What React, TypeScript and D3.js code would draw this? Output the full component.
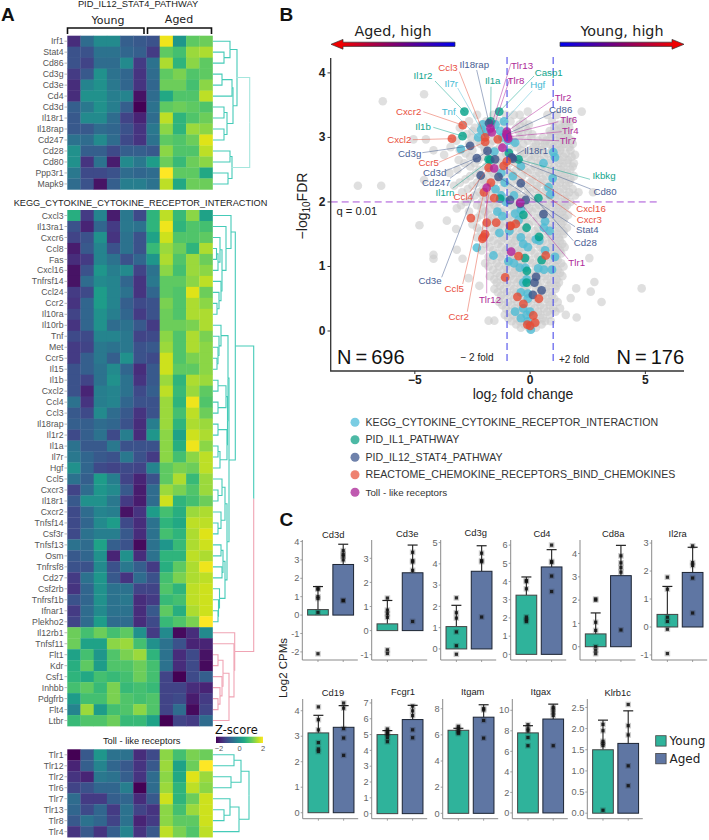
import React from "react";
import * as d3 from "d3";

const SANS = "'Liberation Sans', Arial, sans-serif";
const DEJA = "'DejaVu Sans', sans-serif";

// ---------- Heatmap data (z-scores, 6 young + 5 aged samples) ----------
const pidGenes = ["Irf1","Stat4","Cd86","Cd3g","Cd3e","Cd4","Cd3d","Il18r1","Il18rap","Cd247","Cd28","Cd80","Ppp3r1","Mapk9"];
const pidValues = [
[-1.5,-.6,-.1,-.1,-.8,-.9,-1,1.9,.1,1,1.1],
[-1,-1,-.5,-.5,-.7,-.8,-1.3,1,.8,1.4,1.5],
[-1,-1.2,-.6,-.6,-.1,-1.3,-.5,1.5,.6,1.3,1],
[-1.3,-.9,0,-.5,-.7,-1.4,-.6,1,1.2,.9,1],
[-1.5,-.2,0,-.4,-.7,-1.4,-.7,1.1,1.1,.8,1.3],
[-1.5,0,0,-.3,-.2,-1.8,-.6,.4,.9,.9,1.6],
[-.8,-.4,0,-.3,-.8,-2,-.5,1,1.1,1,.9],
[-.9,-.1,-.1,-.6,-1.2,-1.6,-.6,1.6,.6,.9,1.1],
[-.9,-.9,-.6,-.7,-1,-1.4,-.4,1.3,.6,1.4,1.3],
[-.5,-.6,-.1,-.6,-1.1,-1.4,-.5,1,.9,1.1,1.8],
[0,-.8,-.8,-1.1,-.8,-.8,-.9,1.3,.9,.9,1.6],
[0,-1.4,-.5,-1.7,-.1,-.4,.2,1.1,.7,1.1,1.3],
[-.4,-1.1,-1.1,-1,-.6,-.7,-.6,2,1,1,.4],
[-.6,-1,-1.8,-.8,-.3,-.3,-.5,1.6,.4,1.1,1.1],
];
const keggGenes = ["Cxcl3","Il13ra1","Cxcr6","Ccl8","Fas","Cxcl16","Tnfrsf14","Ccl24","Ccr2","Il10ra","Il10rb","Tnf","Met","Ccr5","Il15","Il1b","Cxcl2","Ccl4","Ccl3","Il18rap","Il1r2","Il1a","Il7r","Hgf","Ccl5","Cxcr3","Il18r1","Cxcr2","Tnfsf14","Csf3r","Tnfsf13","Osm","Tnfrsf8","Cd27","Csf2rb","Tnfrsf1b","Ifnar1","Plekho2","Il12rb1","Tnfsf11","Flt1","Kdr","Csf1","Inhbb","Pdgfrb","Flt4","Ltbr"];
const keggValues = [
[.5,-1.3,-.2,-1.7,-.4,-1.1,.6,1.6,.7,1.3,.3],
[-1,-1.6,-.7,-1.3,-.4,-.5,.6,1.9,.6,.9,.8],
[-1.2,-1,0,-1.4,-.5,-1,.3,1.7,.9,.9,1],
[-1.7,-.9,-.2,-1,-.5,-1,.7,1.4,1.1,.6,1.5],
[-1.5,-1.3,-.2,-.5,-1,-.7,.1,1.5,.9,1.4,1.1],
[-1.8,-1,.1,-.3,-.1,-1.2,-.5,1.3,.8,1.4,1.3],
[-1.8,-.6,-.1,-.2,-.7,-1.4,-.4,1,1,1.3,1.6],
[-1.3,-1.1,.2,-.2,-.5,-1.4,-.7,1,.9,1.8,1.1],
[-1.4,-.7,.2,-.2,-.8,-1.1,-1,1.2,.9,1.5,1.3],
[-1.2,-.7,0,-.3,-.7,-1.3,-1,1.1,.9,1.5,1.5],
[-1.4,-.7,0,-.6,-.5,-.9,-1.3,1.1,1.1,1.2,1.5],
[-1.1,-1.1,-.2,-.2,-.4,-1.2,-1.1,1.3,.9,1.5,1.2],
[-1.3,-1.2,-.4,-.5,-.4,-1,-.9,1.4,.9,1.5,1.3],
[-1.3,-.8,-.4,-.8,0,-1,-1.1,1.7,.9,1.2,1.3],
[-1,-.8,-.5,-.1,-.7,-1.5,-.9,1.7,1,1,1.3],
[-1,-1.2,-.5,0,-.5,-1.4,-.9,1.4,.6,1.5,1.4],
[-1,-1.6,-.3,-.2,-.5,-1.1,-.8,1.6,.7,1.4,1],
[-.5,-1.4,-.3,-.2,-.7,-1,-1,1.4,.6,1.9,.9],
[-.9,-1.1,-.1,-.6,-.9,-1.4,-1,1.4,.8,1.6,1.1],
[-.8,-.8,-.6,-.7,-1,-1.5,-.3,1.4,.6,1.5,1.4],
[-1.1,-.8,-.5,-1.1,-.3,-1.5,.1,1.3,.3,1.7,1.5],
[-.5,-.9,-.9,-.4,-1,-1,-1,1.3,.5,1.9,1.3],
[-.4,-.7,-.9,-1,-.4,-1,-1.3,1.3,.8,1.3,1.6],
[0,-.7,-1.1,-1.2,-1.1,-1.2,-.2,1,1.2,1.1,1.6],
[-.5,-.8,.2,-.3,-1.2,-1.6,-1,1,1.5,.7,1.4],
[-1.2,-.6,.1,-.1,-.9,-1.7,-.6,1.4,1.2,.9,1.4],
[-.9,0,0,-.4,-1.3,-1.7,-.6,1.7,.6,.8,1.1],
[-1.1,-.6,-.2,-.3,-1.8,-1.4,.2,.8,.5,1.4,1.5],
[-1.1,-.7,-.1,.2,-1.1,-1.5,-.5,.6,.4,1.6,1.6],
[-1.1,-.5,-.3,-.3,-.9,-1.5,-.5,.8,.6,1.5,1.8],
[-.5,-.6,.3,-.8,-1,-1.9,-.5,.1,.7,1.5,1.7],
[-.9,-.7,0,-1.6,0,-1.5,-.5,.6,.6,1.6,1.5],
[-1,-1,-.1,-1,-.4,-.8,-1.3,.5,1,1.5,1.9],
[-1.3,-.5,.1,-.9,-1.4,-.6,-1,.8,1.2,1.5,1.6],
[-1.4,-.7,0,-.5,-.5,-1.2,-1.2,.9,.6,1.6,1.7],
[-1,-.7,0,-.5,-.4,-1.5,-1.3,.7,.8,1.6,1.7],
[-1.3,-.6,-.1,-.5,-.5,-1.5,-.9,1,.5,1.5,1.7],
[-1.2,-.6,.2,-.6,-.6,-1.5,-1.1,.7,.9,1.2,2],
[1.1,.8,1.1,.8,1,0,-1.3,-.1,-1.9,-1.5,-.1],
[1.1,.3,.3,1.3,1.4,.8,0,-.5,-1,-1.6,-1.6],
[.3,.8,.1,.9,1.2,1.4,.6,-.5,-1.5,-1.1,-1.8],
[.5,1,.2,.9,.9,1.1,.8,-.5,-1.5,-1.1,-1.9],
[.6,.4,.8,.7,.8,1.1,.8,-1.2,-2,-1.1,-.8],
[.8,1,.7,1.2,.7,.8,.7,-1.2,-1.2,-1.5,-1.6],
[.2,.8,.8,1.2,.9,.8,.9,-1.2,-1.1,-1.7,-1.3],
[-.2,1.4,.2,.8,.9,1.3,.9,-1.2,-.6,-1.9,-1.2],
[.7,.9,.9,1.1,.7,.7,.3,-2,-1.2,-1.3,-.6],
];
const tollGenes = ["Tlr1","Tlr12","Tlr2","Tlr6","Tlr7","Tlr13","Tlr8","Tlr4"];
const tollValues = [
[-2,-.9,.1,-.5,-.5,-1.5,-1.1,1.3,.8,1.2,1.1],
[-1.6,-.8,-.2,-.7,-.9,-1.4,-.9,1.4,.3,1.1,2],
[-1.4,-1.6,-.4,-.5,-.8,-1.4,-.6,1.3,.4,1.8,1.4],
[-1.2,-1,-.7,-.7,-.3,-2,-.6,1.4,.6,1.6,1.3],
[-.6,-1.3,-1.3,-.8,-.7,-1.5,-.9,1.7,.6,1.1,1.7],
[-.7,-1.1,-.7,-1.3,-.5,-1.2,-1.4,1.3,.8,1.4,1.7],
[-.9,-.5,-.7,-1.2,-.5,-1.6,-1.3,1.3,1,1,1.7],
[-1.4,-.9,-1.4,-.8,-.2,-1.4,-.9,1.6,1.2,.9,1.6],
];

// Dendrograms: [mergeHeight, left, right]; a bare number is a row index.
type Tree = number | [number, Tree, Tree];
const pidTree: Tree = [36.7,
  [24, [17, 0, [11, 1, 2]], [20, [19, [9, 3, 4], 5], [14, [11, 6, 7], [11, 8, 9]]]],
  [19, [17, 10, 11], [15, 12, 13]]];
const keggTree: Tree = [40.7,
  [22.3,
    [18, 0, [13, 1, [9, [7, 2, [5, [3.5, 3, 4], 5]], [8, 6, [6, 7, [4, 8, 9]]]]]],
    [16,
      [15, [8, 10, [6, 11, [5, 12, [4, 13, 14]]]], [14.5, [13, [5, 15, 16], [5, 17, 18]], [14, [5, 19, 20], [7, [5, 21, 22], 23]]]],
      [14, [12, [9, 24, [5, 25, 26]], [8, 27, [5, 28, 29]]], [12, [10, [8, 30, 31], [9, 32, 33]], [6.5, 34, [5.5, 35, [5, 36, 37]]]]]]],
  [21.7, 38, [21, 39, [16, [10, [5, 40, 41], [9, 42, [7, 43, [5, 44, 45]]]], 46]]]];
const tollTree: Tree = [36, [28, [21, 0, 1], [18, 2, 3]], [26, [17, 4, [11, 5, 6]], 7]];

// ---------- Volcano data ----------
const greyRows: [number, number[]][] = [
[3.67,[-4.6]],[3.56,[-6.39]],[3.4,[2.24,-.1]],[3.35,[-2.3,-1.6,-1.05,-.7,-.45,.75,1.15]],
[3.25,[-2.65,-1.9,-1.35,-.85,-.3,1.5,1.75,.95]],[3.15,[-3.05,-2.4,-1.55,-.6,-.2,1.05,1.35,1.7]],
[3.05,[-2.75,-1.85,-1.15,-.35,.1,.9,1.25,1.6]],[2.97,[-5.06,-4.52]],[2.95,[-3.2,-2.3,-1.6,-.75,-.1,.35,.7,1.1,1.45,1.8]],
[2.85,[-3.45,-2,-1.3,-.55,.15,.5,1,1.35,1.7]],[2.8,[-4.19]],[2.73,[-3.73,1.95]],[2.75,[-2.8,-1.75,-1.05,-.25,.3,.75,1.2,1.55]],
[2.65,[-3.1,-2.25,-1.45,-.7,.05,.45,.9,1.3,1.65]],[2.55,[-2.6,-1.9,-1.15,-.4,.2,.65,1.05,1.45,1.85]],
[2.45,[-3.5,-2.35,-1.6,-.85,-.1,.4,.85,1.25,1.6]],[2.35,[-2.8,-2.05,-1.3,-.6,.1,.55,1,1.4,1.75]],[2.34,[-4.6]],
[2.25,[-7.47,-6.46,-3.3,-2.5,-1.75,-.95,-.25,.3,.75,1.15,1.55]],[2.15,[-2.95,-2.2,-1.45,-.7,0,.5,.95,1.3,1.7,2.73,2.1]],
[2.05,[-2.6,-1.85,-1.1,-.4,.2,.7,1.1,1.5]],[1.95,[-3,-2.3,-1.55,-.8,-.15,.4,.85,1.25,1.6]],[1.9,[-3.18]],
[1.85,[-2.65,-1.95,-1.25,-.55,.1,.6,1.05,1.4]],[1.75,[-2.3,-1.65,-.95,-.3,.3,.8,1.2,1.5]],[1.71,[-3.61]],
[1.65,[-2.5,-1.9,-1.3,-.7,-.05,.5,.95,1.35]],[1.64,[-4.8]],[1.58,[-3.21]],[1.55,[-2.15,-1.55,-.9,-.35,.2,.7,1.1,1.45]],
[1.45,[-2.3,-1.75,-1.15,-.6,0,.45,.9,1.25]],[1.35,[-1.95,-1.4,-.8,-.25,.3,.75,1.1,1.4]],[1.26,[-3.18]],
[1.25,[-2.1,-1.6,-1.05,-.5,.05,.55,.95,1.3]],[1.18,[-4.19]],[1.15,[-1.8,-1.3,-.75,-.2,.35,.8,1.15]],[1.13,[2.57]],
[1.12,[-4.19,-2.93]],[1.05,[-1.95,-1.45,-.95,-.45,.1,.6,1,1.35]],[.95,[-1.6,-1.15,-.65,-.15,.4,.85,1.2]],
[.85,[-1.75,-1.3,-.85,-.35,.2,.65,1.05,1.4]],[.82,[-2.67]],[.76,[2.79]],[.75,[-1.45,-1,-.55,0,.45,.9,1.25]],[.7,[-2.2]],
[.66,[4.84,2]],[.65,[-1.55,-1.15,-.7,-.25,.25,.7,1.1]],[.61,[2.63]],[.55,[-1.25,-.85,-.4,.1,.55,.95]],[.51,[1.76]],
[.45,[-1.35,-.95,-.55,-.1,.35,.8,1.2,3.1]],[.35,[-1.05,-.65,-.25,.2,.6,1,1.3]],[.25,[-1.1,-.75,-.4,.05,.45,.85,1.55]],
[.21,[2.02]],[.16,[-1.8,-1.55]],[.15,[-.8,-.45,-.1,.3,.65,.9]],[.05,[-.4,-.05,.25]],
// denser core of the cloud
[3.2,[-2.1,-1.75,-1.1,-.45,-.05,1.25,1.55]],[3.1,[-2.5,-2.15,-1.7,-1,-.5,-.1,.85,1.15,1.45]],[3,[-2.55,-2,-1.4,-.9,-.45,.05,.55,.9,1.3,1.65]],
[2.9,[-2.65,-2.15,-1.75,-1.15,-.7,-.3,.25,.65,.85,1.2,1.5,1.85]],[2.8,[-3.05,-2.5,-1.95,-1.5,-.9,-.4,0,.45,.95,1.3,1.75]],
[2.7,[-2.6,-2.05,-1.6,-1.25,-.85,-.4,-.05,.2,.6,1.05,1.45,1.8]],[2.6,[-2.85,-2.4,-1.7,-1.3,-.9,-.55,-.2,.35,.8,1.25,1.6,1.9]],
[2.5,[-3.15,-2.2,-1.75,-1.4,-1,-.6,-.25,.05,.5,.95,1.35,1.75]],[2.4,[-2.6,-2.15,-1.8,-1.45,-1.05,-.7,-.35,.25,.7,1.15,1.5,1.9]],
[2.3,[-3.05,-2.3,-1.95,-1.55,-1.15,-.8,-.45,0,.45,.9,1.3,1.7]],[2.2,[-2.7,-2.05,-1.6,-1.25,-.85,-.5,-.1,.25,.7,1.05,1.45,1.85]],
[2.1,[-2.4,-2.05,-1.7,-1.3,-.9,-.55,-.2,.35,.8,1.2,1.6,1.95]],[2,[-2.8,-2.1,-1.7,-1.35,-1,-.6,-.25,.1,.55,.95,1.4,1.75]],
[1.9,[-2.1,-1.75,-1.4,-1.05,-.7,-.35,-.05,.25,.7,1.15,1.5]],[1.8,[-2.15,-1.8,-1.45,-1.1,-.75,-.45,-.1,.45,.95,1.3,1.65]],
[1.7,[-1.75,-1.5,-1.15,-.8,-.5,-.2,.15,.65,1.1,1.45]],[1.6,[-2.3,-1.7,-1.4,-1.1,-.75,-.5,-.2,.35,.85,1.25,1.6]],
[1.5,[-1.95,-1.4,-1.05,-.75,-.45,-.15,.35,.8,1.15,1.45]],[1.4,[-1.6,-1.25,-.95,-.65,-.4,-.1,.15,.55,.95,1.3]],
[1.3,[-1.75,-1.25,-.95,-.65,-.35,-.05,.45,.9,1.2,1.5]],[1.2,[-1.45,-1.15,-.85,-.55,-.3,.2,.65,1.05,1.35]],
[1.1,[-1.65,-1.2,-.85,-.6,-.3,0,.4,.8,1.2]],[1,[-1.8,-1.35,-1.05,-.8,-.55,-.3,.25,.7,1.1,1.45]],[.9,[-1.45,-1,-.7,-.5,-.25,.1,.5,.95,1.3]],
[.8,[-1.55,-1.15,-.7,-.45,-.1,.3,.75,1.15]],[.7,[-1.3,-.85,-.4,-.1,.35,.8,1.15]],[.6,[-1.4,-1,-.6,-.15,.45,.85]],[.5,[-1.15,-.7,-.3,.2,.7,1.05]],
[.4,[-1.2,-.8,-.4,.05,.45,.85]],[.3,[-.9,-.5,-.1,.35,.75,1.1]],[.2,[-.95,-.6,-.25,.15,.55]],[.1,[-.6,-.25,.15,.5]],
];
type Pt = [number, number];
const keggPoints: Pt[] = [[-3,2.82],[-2.05,3.2],[-1.5,3.2],[-1.9,3.08],[-1.3,3.1],[-.65,2.92],[-1.2,3],[-1.55,2.78],[-.95,2.95],[-1.25,2.45],[-1.1,2.3],[-1.5,2.2],[-1.25,2.1],[-1.05,2],[-1.42,1.85],[-1.33,1.52],[-1.59,1.17],[-2.31,1.29],[-.94,1.08],[-1.2,1.78],[-.7,2.1],[-.4,2.55],[-.75,2.4],[.58,2.6],[1.01,2.77],[1.08,2.69],[.98,2.37],[.8,2.23],[.87,2.11],[-.65,1.82],[-.4,1.88],[-.5,1.72],[-.9,1.55],[.65,1.7],[.85,1.55],[.6,1.6],[-.4,1.45],[-.1,1.3],[-.3,1.35],[.25,1.42],[.4,1.4],[.65,1.25],[-.7,1.05],[-.45,.98],[-.2,.98],[.35,.97],[.6,.95],[.95,.95],[-.15,.8],[-.3,.75],[-.4,.6],[-.1,.58],[-.3,.35],[-.15,.25],[-.65,.3],[-.4,.2],[.03,.02],[-.1,.5],[0,.3],[-.1,.15],[1.08,1.15]];
const il1Points: Pt[] = [[-1.8,2.66],[-.92,2.76],[.36,2.06],[-.29,1.8],[-.15,1.6],[.39,1.46],[-.22,1.13],[.5,1.1],[-.14,.93],[-.15,.75],[-1.3,2.05]];
const il12Points: Pt[] = [[-1.52,2.66],[-.87,2.03],[-.43,1.97],[.58,1.81],[.26,.84],[.19,.75],[.5,.63],[.12,.56],[-.19,2.03]];
const chemoPoints: Pt[] = [[-1.4,2.97],[-1.56,2.06],[-2.57,1.75],[-1.88,1.68],[-1.47,1.68],[-2.02,1.46],[-1.95,1.5],[-2.07,1.43],[-1.08,.83],[-.87,1.63],[-.84,1.63],[-.62,1.66],[-.5,1.16],[.68,1.17],[-.55,.53],[-.29,.42],[.38,.5],[.14,.24],[.22,.13],[-.12,.1],[0,.08]];
const tollPoints: Pt[] = [[-1.2,2.84],[-1.56,2.52],[-.82,1.23]];

// Labelled genes: name, group index, log2FC, -log10FDR
const labelledGenes: [string, number, number, number][] = [
["Il7r",0,-2.12,3.12],["Tnf",0,-2.25,3],["Hgf",0,-1.13,3.25],
["Il1r2",1,-2.85,3.4],["Il1a",1,-1.71,3.25],["Il1b",1,-2.93,3.02],["Il1rn",1,-1.73,2.65],["Casp1",1,-1.34,3.4],["Ikbkg",1,-.5,2.66],
["Il18rap",2,-1.78,3.22],["Cd3g",2,-2.6,2.87],["Cd3d",2,-2.31,2.68],["Cd247",2,-1.85,2.79],["Cd3e",2,-2.14,2.41],["Cd86",2,-1.01,3.05],["Il18r1",2,-.8,2.69],["Cd80",2,-.75,2.67],["Stat4",2,-1.37,2.39],["Cd28",2,-.4,2.29],
["Ccl3",3,-1.95,3],["Cxcr2",3,-2.92,3.19],["Cxcl2",3,-3.39,2.98],["Ccr5",3,-1.95,2.93],["Ccl4",3,-1.8,2.53],["Ccl5",3,-2,2.15],["Ccr2",3,-1.7,2.3],["Cxcl16",3,-1.01,2.63],["Cxcr3",3,-1.15,2.56],
["Tlr13",4,-1.72,3.14],["Tlr8",4,-1.66,3.08],["Tlr2",4,-1.01,3.09],["Tlr6",4,-1.03,3.04],["Tlr4",4,-.98,3.01],["Tlr7",4,-.95,2.98],["Tlr1",4,-.43,1.99],["Tlr12",4,-1.88,2.22],
];
const groupNames = ["KEGG_CYTOKINE_CYTOKINE_RECEPTOR_INTERACTION","PID_IL1_PATHWAY","PID_IL12_STAT4_PATHWAY","REACTOME_CHEMOKINE_RECEPTORS_BIND_CHEMOKINES","Toll - like receptors"];
const groupPoints = [keggPoints, il1Points, il12Points, chemoPoints, tollPoints];

// ---------- Bars ----------
const barGroups = ["Young","Aged"];
const barGenes = ["Cd3d","Cd3e","Cd3g","Cd4","Cd8a","Il2ra","Cd19","Fcgr1","Itgam","Itgax","Klrb1c"];
const barMeans = [[.3,2.75],[.28,2.4],[1.05,3.65],[3.25,4.8],[.55,3.05],[.45,1.95],[3.13,3.35],[5,5.95],[6.35,7.35],[7.8,9.15],[1.5,1.65]];
const barErrors = [[1.55,3.85],[1.25,3.55],[2.05,4.85],[4.25,5.75],[1.45,4.35],[1.45,2.85],[3.82,4.2],[5.25,6.85],[6.5,8.3],[8.5,10.6],[2.2,2.42]];
const barDots = [
[[-2.1,.15,.9,1,1.45,1.4],[.8,.78,3,3.2,3.3,3.5]],
[[-.95,-.8,.55,.7,.85,1.35],[.38,2.5,2.85,2.9,3.25]],
[[-.25,.15,.8,1.45,1.7,2.4],[1.5,4.1,4.15,4.5]],
[[1.8,1.9,2.05,3.6,4,4.05],[3.45,4.3,5.05,5.1,6]],
[[-.3,-.15,0,.7,1.05,2,2.05],[.72,3.2,3.4,3.6,3.9]],
[[-.95,-.08,.2,.35,1.35,1.78],[.5,1.75,2.2,2.3,2.9]],
[[2.4,2.5,2.75,3.25,3.65,4.15],[2.25,2.93,3.3,4.1,4.3]],
[[4.55,4.8,5,5.1,5.2,5.35],[4.8,5.3,6.2,6.5,6.8]],
[[6.1,6.2,6.3,6.5,6.65],[5.75,7.1,7.9,8]],
[[6.55,7.35,8,8.2,8.6],[6.55,9.5,9.8,10.1,10.3]],
[[.07,1.6,1.65,1.7,1.95,2.1],[.65,1.12,1.85,2.07,2.57]],
];
const barTicks = [[-2,-1,0,1,2,3,4],[-1,0,1,2,3],[0,1,2,3,4,5],[0,1,2,3,4,5,6],[0,1,2,3,4],[-1,0,1,2,3],[0,1,2,3,4],[0,1,2,3,4,5,6,7],[0,2,4,6,8],[0,2,4,6,8,10],[0,.5,1,1.5,2,2.5]];
const barDomains = [[-2.44,4.08],[-1.22,3.76],[-.52,5.12],[-.31,6.28],[-.57,4.58],[-1.18,3.11],[-.235,4.46],[-.32,7.25],[-.41,8.74],[-.56,11.1],[-.13,2.7]];

// ---------- Layout (pixels) ----------
const barAxisX = [302.3,371.7,440.7,510.7,580,651.7,302.7,371.7,442.7,512.3,587.3];
const barTitleX = [333.3,407.3,475.7,542,613.3,677.7,333,403,472.7,540.7,617.7];
const barTitleDy = [0,-1,-2,-1,-1,-1,0,-1,-1,-1,0];
const labelLayout: Record<string, [number, number, number, number]> = {
  Il1r2:[423,76,435,81], Il7r:[451.3,83.7,457.7,88], Ccl3:[448,67.7,459.3,71.7], Il18rap:[474.3,64.3,476.7,70], Il1a:[492.7,81,491,86.7],
  Tnf:[448.7,111.3,456,115], Cxcr2:[408.7,111.7,423.3,111.7], Il1b:[423,126.7,433.3,127.3], Cxcl2:[399.3,139.7,412.7,139.7], Cd3g:[409.7,153.7,422.3,152.7],
  Ccr5:[428.7,162.5,439,162.3], Cd3d:[434.7,172.8,446,170.7], Cd247:[436.3,182.3,450,178.3], Il1rn:[445,192.7,452.7,188.3], Ccl4:[463.3,197,470,191.7],
  Cd3e:[430,280.7,441.7,277.3], Ccl5:[454.3,289,462.7,284], Ccr2:[458.7,316.7,467.3,311.7], Tlr12:[490,299.3,486.7,293.3],
  Tlr13:[522,65.3,511,63.3], Tlr8:[516,80.7,510,78.3], Casp1:[548.7,72.7,534,76], Hgf:[537.7,85,532.3,90.7], Tlr2:[563,97.3,553.3,99.3],
  Cd86:[560.7,109.7,551.7,113.3], Tlr6:[568.7,120,558.3,121.7], Tlr4:[570.3,130.2,561.7,131.7], Tlr7:[568,140.6,559,140.7], Il18r1:[536,150.3,524,150],
  Ikbkg:[604,176,590,179.3], Cd80:[605,192,590.7,189], Cxcl16:[591,208.8,576.7,205], Cxcr3:[589.3,219.2,575.7,216.7], Stat4:[587.3,229.8,575,226.7],
  Cd28:[585.3,243,573.3,240.7], Tlr1:[576.7,262.3,568.3,259.3],
};
const pointColors = ["#4DBBD5","#00A087","#3C5488","#E64B35","#B2209A"];
const textColors = ["#46BAD3","#12A58C","#4A6094","#E9503E","#AD2A98"];
const legendColors = ["#7ACDE3","#4CB9A5","#6F82AB","#EE8270","#BF5AB0"];
const TEAL = "#45CBB8", TEAL_LIGHT = "#A5E6DD", PINK = "#F0A4B4";

const zColor = d3.scaleSequential(d3.interpolateViridis).domain([-2, 2]);

function Heatmap({ genes, values, top, tree, colors, rootColors }: any) {
  const rowH = 10.98;
  const x = d3.scaleBand<number>().domain(d3.range(11)).range([67.3, 212.5]);
  const y = d3.scaleBand<number>().domain(d3.range(genes.length)).range([top, top + rowH * genes.length]);
  const dx = d3.scaleLinear().domain([0, 41]).range([213, 254]);
  const edges: any[] = [];
  const walk = (n: Tree, color: string): { yy: number; h: number } => {
    if (typeof n === "number") return { yy: y(n)! + rowH / 2, h: 0 };
    const [h, a, b] = n;
    const l = walk(a, color), r = walk(b, color);
    const yy = (l.yy + r.yy) / 2;
    for (const c of [l, r]) edges.push({ d: `M${dx(c.h)},${c.yy}H${dx(h)}V${yy}`, color });
    return { yy, h };
  };
  const [rh, ra, rb] = tree as [number, Tree, Tree];
  const l = walk(ra, colors[0]), r = walk(rb, colors[1]);
  const ry = (l.yy + r.yy) / 2;
  edges.push({ d: `M${dx(l.h)},${l.yy}H${dx(rh)}V${ry}`, color: rootColors[0] });
  edges.push({ d: `M${dx(r.h)},${r.yy}H${dx(rh)}V${ry}`, color: rootColors[1] });
  return (
    <g>
      {values.map((row: number[], i: number) => row.map((v, j) => (
        <rect key={`${i}-${j}`} x={x(j)} y={y(i)} width={x.bandwidth() + 0.3} height={y.bandwidth() + 0.3} fill={zColor(v)} />
      )))}
      {genes.map((g: string, i: number) => (
        <g key={g}>
          <line x1={64.5} x2={67.3} y1={y(i)! + rowH / 2} y2={y(i)! + rowH / 2} stroke="#999" strokeWidth={0.7} />
          <text x={63.5} y={y(i)! + rowH / 2 + 3.1} textAnchor="end" fontFamily={SANS} fontSize={8.7} fill="#555">{g}</text>
        </g>
      ))}
      {edges.map((e, i) => <path key={i} d={e.d} fill="none" stroke={e.color} strokeWidth={1.1} />)}
    </g>
  );
}

function Volcano() {
  const x = d3.scaleLinear().domain([-8.65, 6.72]).range([330.7, 685]);
  const y = d3.scaleLinear().domain([-0.62, 4.2]).range([371, 60]);
  const grey: Pt[] = greyRows.flatMap(([yy, xs]) => xs.map((v) => [v, yy] as Pt));
  return (
    <g>
      <defs>
        <linearGradient id="gradL" gradientUnits="userSpaceOnUse" x1={341} x2={455} y1={0} y2={0}>
          <stop offset="0" stopColor="#f00000" /><stop offset="1" stopColor="#0000f0" />
        </linearGradient>
        <linearGradient id="gradR" gradientUnits="userSpaceOnUse" x1={560} x2={674} y1={0} y2={0}>
          <stop offset="0" stopColor="#0000f0" /><stop offset="1" stopColor="#f00000" />
        </linearGradient>
      </defs>
      <text x={393} y={36} textAnchor="middle" fontFamily={DEJA} fontSize={14.3} fill="#222">Aged, high</text>
      <text x={622} y={36} textAnchor="middle" fontFamily={DEJA} fontSize={14.3} fill="#222">Young, high</text>
      <path d="M455,42.2V46.4H343V49.2L331,44.3L343,39.4V42.2Z" fill="url(#gradL)" stroke="#333" strokeWidth={0.7} />
      <path d="M560,42.2V46.4H672V49.2L684,44.3L672,39.4V42.2Z" fill="url(#gradR)" stroke="#333" strokeWidth={0.7} />

      {grey.map(([a, b], i) => <circle key={i} cx={x(a)} cy={y(b)} r={4.3} fill="#cbcbcb" fillOpacity={0.62} />)}
      {groupPoints.map((pts, gi) => (
        <g key={gi}>
          {pts.map(([a, b], i) => <circle key={i} cx={x(a)} cy={y(b)} r={4.4} fill={pointColors[gi]} fillOpacity={0.8} />)}
          {labelledGenes.filter((g) => g[1] === gi).map((g) => <circle key={g[0]} cx={x(g[2])} cy={y(g[3])} r={4.4} fill={pointColors[gi]} fillOpacity={0.8} />)}
        </g>
      ))}

      <line x1={330.7} x2={660} y1={y(2)} y2={y(2)} stroke="#A64FD6" strokeWidth={1} strokeDasharray="7 4" />
      {[-1, 1].map((v) => <line key={v} x1={x(v)} x2={x(v)} y1={57} y2={365} stroke="#3A3AE8" strokeWidth={1} strokeDasharray="7 4" />)}

      {labelledGenes.map(([name, gi, a, b]) => {
        const [tx, ty, lx, ly] = labelLayout[name];
        return (
          <g key={name}>
            <line x1={x(a)} y1={y(b)} x2={lx} y2={ly} stroke={pointColors[gi]} strokeOpacity={0.6} strokeWidth={0.8} />
            <text x={tx} y={ty + 3.4} textAnchor="middle" fontFamily={SANS} fontSize={9.7} fill={textColors[gi]}>{name}</text>
          </g>
        );
      })}

      <path d={`M330.7,58V371H684`} fill="none" stroke="#333" strokeWidth={1.3} />
      {[0, 1, 2, 3, 4].map((t) => (
        <g key={t}>
          <line x1={327.5} x2={330.7} y1={y(t)} y2={y(t)} stroke="#333" strokeWidth={1} />
          <text x={325.5} y={y(t) + 4} textAnchor="end" fontFamily={SANS} fontWeight="bold" fontSize={12} fill="#222">{t}</text>
        </g>
      ))}
      {[-5, 0, 5].map((t) => (
        <g key={t}>
          <line x1={x(t)} x2={x(t)} y1={371} y2={374} stroke="#333" strokeWidth={1} />
          <text x={x(t)} y={383.5} textAnchor="middle" fontFamily={SANS} fontWeight="bold" fontSize={12} fill="#222">{t < 0 ? "−5" : t}</text>
        </g>
      ))}
      <text transform="translate(307,206) rotate(-90)" textAnchor="middle" fontFamily={SANS} fontSize={14} fill="#222">
        −log<tspan dy={3} fontSize={10}>10</tspan><tspan dy={-3}>FDR</tspan>
      </text>
      <text x={523} y={399} textAnchor="middle" fontFamily={SANS} fontSize={14} fill="#222">
        log<tspan dy={3} fontSize={10}>2</tspan><tspan dy={-3}> fold change</tspan>
      </text>
      <text x={336.5} y={215} fontFamily={SANS} fontSize={11.2} fill="#222">q = 0.01</text>
      <text x={337} y={364} fontFamily={SANS} fontSize={20} fill="#111">{"N\u2009=\u2009696"}</text>
      <text x={616.5} y={364} fontFamily={SANS} fontSize={20} fill="#111">{"N\u2009=\u2009176"}</text>
      <text x={460.5} y={361} fontFamily={SANS} fontSize={10} fill="#222">− 2 fold</text>
      <text x={559} y={363} fontFamily={SANS} fontSize={10} fill="#222">+2 fold</text>

      {groupNames.map((g, i) => (
        <g key={g}>
          <circle cx={355} cy={422.3 + i * 17.5} r={4.5} fill={legendColors[i]} />
          <text x={365.5} y={425.7 + i * 17.5} fontFamily={SANS} fontSize={i === 4 ? 9.8 : 10.6} fill="#333">{g}</text>
        </g>
      ))}
    </g>
  );
}

function BarPanel({ idx }: { idx: number }) {
  const row2 = idx >= 6;
  const top = row2 ? 699 : 540, bottom = row2 ? 818.7 : 660;
  const ax = barAxisX[idx];
  const y = d3.scaleLinear().domain(barDomains[idx]).range([bottom, top]);
  const x = d3.scaleBand().domain(barGroups).range([ax + 2.8, ax + 53.8]).paddingInner(0.18).paddingOuter(0.1);
  return (
    <g>
      <text x={barTitleX[idx]} y={(row2 ? 696 : 538) + barTitleDy[idx]} textAnchor="middle" fontFamily={SANS} fontSize={9.4} fill="#222">{barGenes[idx]}</text>
      <path d={`M${ax},${top}V${bottom}H${ax + 55.5}`} fill="none" stroke="#8a8a8a" strokeWidth={1} />
      {barTicks[idx].map((t) => (
        <g key={t}>
          <line x1={ax - 2} x2={ax} y1={y(t)} y2={y(t)} stroke="#8a8a8a" strokeWidth={0.8} />
          <text x={ax - 3} y={y(t) + 3.2} textAnchor="end" fontFamily={SANS} fontSize={9.2} fill="#666">{idx === 10 ? t.toFixed(1) : t}</text>
        </g>
      ))}
      {barGroups.map((g, gi) => {
        const bx = x(g)!, w = x.bandwidth(), cx = bx + w / 2;
        const m = barMeans[idx][gi], e = barErrors[idx][gi];
        return (
          <g key={g}>
            <line x1={cx} x2={cx} y1={bottom} y2={bottom + 2} stroke="#8a8a8a" strokeWidth={0.8} />
            <line x1={cx} x2={cx} y1={y(m)} y2={y(e)} stroke="#333" strokeWidth={1.2} />
            <line x1={cx - 5} x2={cx + 5} y1={y(e)} y2={y(e)} stroke="#222" strokeWidth={1.2} />
            <rect x={bx} y={Math.min(y(m), y(0))} width={w} height={Math.abs(y(m) - y(0))} fill={gi === 0 ? "#2FB39B" : "#5F76A3"} stroke={gi === 0 ? "#444" : "#1c2433"} strokeWidth={1} />
            {barDots[idx][gi].map((d, i) => (
              <g key={i}>
                <rect x={cx - 2.8} y={y(d) - 2.8} width={5.6} height={5.6} fill="#222" fillOpacity={0.22} />
                <rect x={cx - 1.6} y={y(d) - 1.6} width={3.2} height={3.2} fill="#111" fillOpacity={0.85} />
              </g>
            ))}
          </g>
        );
      })}
    </g>
  );
}

export default function App() {
  const zAxis = d3.scaleLinear().domain([-2, 2]).range([216, 263]);
  return (
    <svg width={709} height={840} viewBox="0 0 709 840" style={{ position: "absolute", left: 0, top: 0, background: "#fff" }}>
      <text x={1} y={21} fontFamily={SANS} fontWeight="bold" fontSize={19} fill="#111">A</text>
      <text x={279.5} y={21} fontFamily={SANS} fontWeight="bold" fontSize={19} fill="#111">B</text>
      <text x={279.5} y={526} fontFamily={SANS} fontWeight="bold" fontSize={19} fill="#111">C</text>

      <text x={138} y={7} textAnchor="middle" fontFamily={SANS} fontSize={9.3} fill="#222">PID_IL12_STAT4_PATHWAY</text>
      <text x={108} y={24} textAnchor="middle" fontFamily={DEJA} fontSize={11} fill="#222">Young</text>
      <text x={179} y={23} textAnchor="middle" fontFamily={DEJA} fontSize={11} fill="#222">Aged</text>
      <path d="M67.5,34V28H144V34M147.5,34V28H211.5V34" fill="none" stroke="#111" strokeWidth={1.6} />
      <Heatmap genes={pidGenes} values={pidValues} top={35.7} tree={pidTree} colors={[TEAL, TEAL]} rootColors={[TEAL_LIGHT, TEAL_LIGHT]} />

      <text x={140.5} y={205.5} textAnchor="middle" fontFamily={SANS} fontSize={9.2} fill="#222">KEGG_CYTOKINE_CYTOKINE_RECEPTOR_INTERACTION</text>
      <Heatmap genes={keggGenes} values={keggValues} top={210} tree={keggTree} colors={[TEAL, PINK]} rootColors={[TEAL, PINK]} />

      <text x={141.7} y={743.5} textAnchor="middle" fontFamily={SANS} fontSize={9.3} fill="#222">Toll - like receptors</text>
      <Heatmap genes={tollGenes} values={tollValues} top={749.3} tree={tollTree} colors={[TEAL, TEAL]} rootColors={[TEAL, TEAL]} />

      <defs>
        <linearGradient id="zGrad" x1="0" x2="1" y1="0" y2="0">
          {d3.range(0, 1.01, 0.1).map((t) => <stop key={t} offset={t} stopColor={d3.interpolateViridis(t)} />)}
        </linearGradient>
      </defs>
      <text x={215} y={734} fontFamily={DEJA} fontSize={11.5} fill="#111">Z-score</text>
      <rect x={216} y={736.7} width={47} height={6.3} fill="url(#zGrad)" />
      {[-2, 0, 2].map((t) => (
        <text key={t} x={zAxis(t) + (t === -2 ? 3 : 0)} y={751} textAnchor="middle" fontFamily={SANS} fontSize={7.5} fill="#555">{t === -2 ? "−2" : t}</text>
      ))}

      <Volcano />

      {barGenes.map((_, i) => <BarPanel key={i} idx={i} />)}
      <text transform="translate(287,668) rotate(-90)" textAnchor="middle" fontFamily={SANS} fontSize={11.5} fill="#222">Log2 CPMs</text>
      {barGroups.map((g, i) => (
        <g key={g}>
          <rect x={655.7} y={735.7 + i * 17.7} width={10.4} height={10.4} fill={i === 0 ? "#2FB39B" : "#5F76A3"} stroke="#444" strokeWidth={0.8} />
          <text x={669.5} y={745.3 + i * 17.7} fontFamily={DEJA} fontSize={12} fill="#222">{g}</text>
        </g>
      ))}
    </svg>
  );
}
